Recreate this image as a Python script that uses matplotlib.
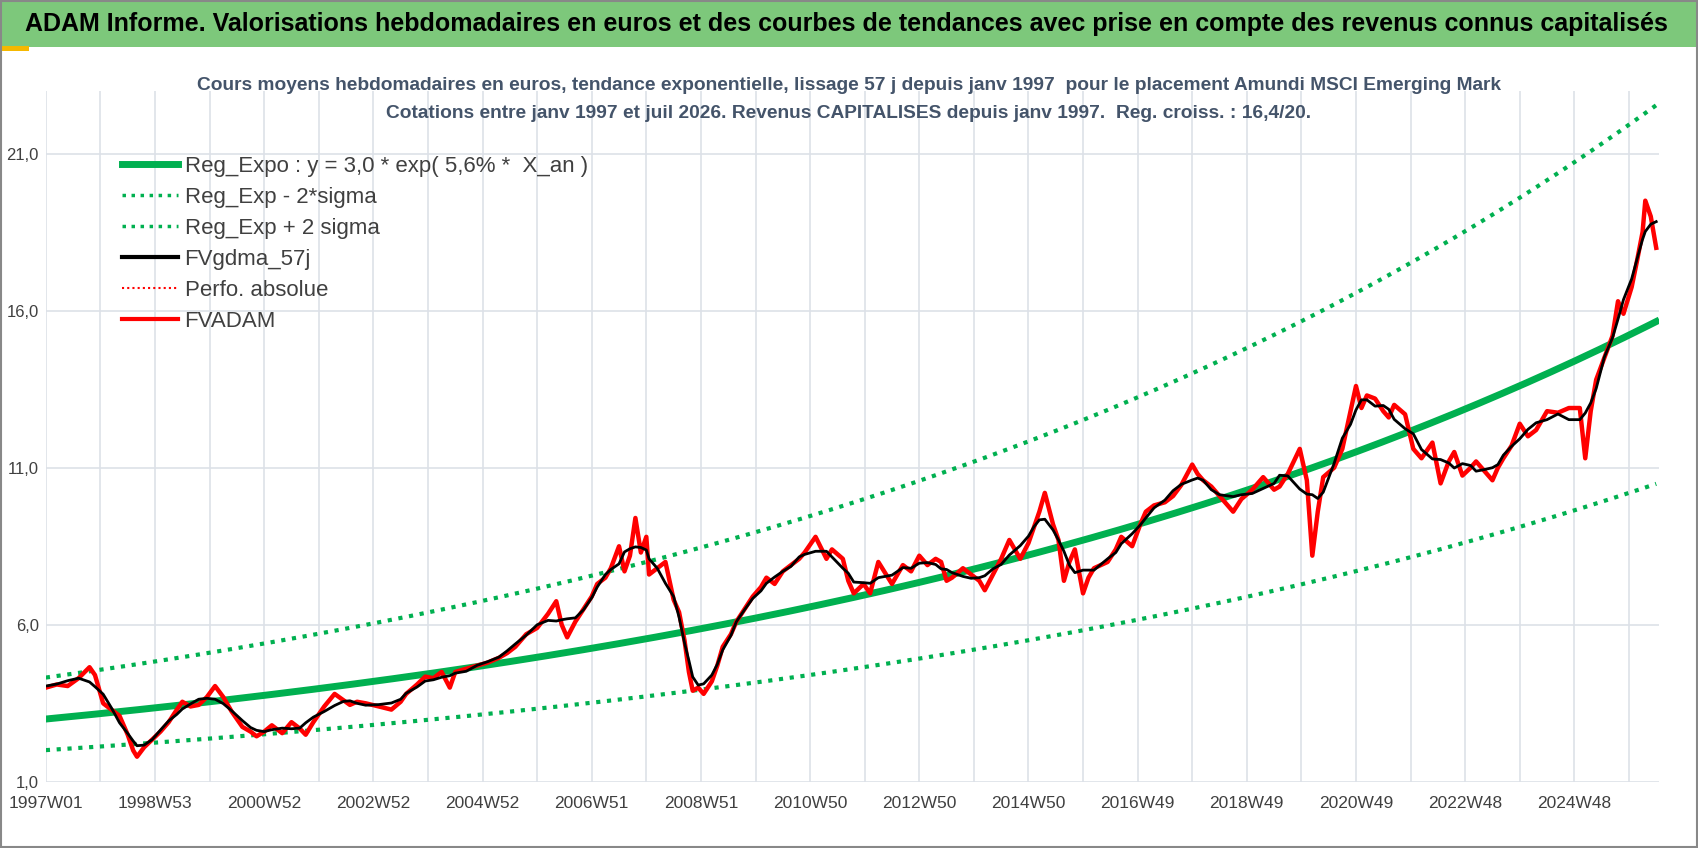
import numpy as np
import pandas as pd
import matplotlib
matplotlib.use("Agg")
import matplotlib.pyplot as plt
from matplotlib.patches import Rectangle
from matplotlib.lines import Line2D

plt.rcParams['font.family'] = ['Liberation Sans', 'DejaVu Sans']

# ---- data ----
red_years = [1997.0,1997.2,1997.4,1997.6,1997.8,1997.9,1998.05,1998.2,1998.35,1998.5,1998.6,1998.67,1998.8,1998.95,
 1999.1,1999.25,1999.4,1999.5,1999.65,1999.8,1999.95,2000.1,2000.25,2000.4,2000.6,2000.75,2000.86,2001.0,2001.14,
 2001.33,2001.5,2001.65,2001.76,2001.9,2002.1,2002.29,2002.45,2002.57,2002.7,2002.86,2003.1,2003.33,2003.5,2003.6,
 2003.8,2003.95,2004.1,2004.25,2004.4,2004.5,2004.7,2004.9,2005.1,2005.3,2005.45,2005.6,2005.8,2006.0,2006.2,2006.35,
 2006.45,2006.55,2006.7,2006.85,2007.0,2007.1,2007.25,2007.35,2007.5,2007.6,2007.7,2007.8,2007.9,2008.0,2008.05,
 2008.2,2008.35,2008.5,2008.6,2008.7,2008.78,2008.85,2008.95,2009.05,2009.2,2009.3,2009.4,2009.55,2009.65,2009.8,
 2009.95,2010.1,2010.2,2010.35,2010.5,2010.65,2010.8,2010.9,2011.1,2011.3,2011.4,2011.6,2011.7,2011.8,2011.98,2012.1,
 2012.25,2012.5,2012.7,2012.85,2013.0,2013.15,2013.3,2013.4,2013.5,2013.6,2013.8,2013.95,2014.1,2014.2,2014.35,2014.5,
 2014.65,2014.85,2015.0,2015.1,2015.2,2015.3,2015.45,2015.55,2015.65,2015.75,2015.85,2016.0,2016.1,2016.2,2016.45,
 2016.6,2016.7,2016.9,2017.05,2017.15,2017.3,2017.5,2017.65,2017.8,2018.0,2018.1,2018.2,2018.35,2018.5,2018.75,2018.9,
 2019.1,2019.3,2019.5,2019.6,2019.75,2019.97,2020.1,2020.2,2020.3,2020.4,2020.6,2020.75,2020.9,2021.0,2021.1,2021.2,
 2021.35,2021.5,2021.6,2021.7,2021.9,2022.05,2022.2,2022.4,2022.55,2022.7,2022.8,2022.95,2023.1,2023.2,2023.35,2023.5,
 2023.6,2023.7,2023.85,2024.0,2024.15,2024.3,2024.5,2024.7,2024.9,2025.1,2025.2,2025.3,2025.4,2025.55,2025.7,2025.8,
 2025.9,2026.05,2026.15,2026.25,2026.3,2026.4,2026.5]
red_values = [4.0,4.1,4.05,4.3,4.65,4.4,3.5,3.3,3.1,2.5,2.0,1.8,2.1,2.35,
 2.6,2.9,3.3,3.55,3.4,3.45,3.7,4.05,3.7,3.25,2.75,2.6,2.45,2.6,2.8,
 2.55,2.9,2.7,2.5,2.9,3.4,3.8,3.6,3.45,3.55,3.5,3.4,3.3,3.55,3.8,
 4.1,4.35,4.3,4.5,4.0,4.5,4.6,4.7,4.8,4.95,5.1,5.3,5.7,5.9,6.35,6.75,
 6.0,5.6,6.1,6.5,6.9,7.3,7.5,7.8,8.5,7.7,8.2,9.4,8.3,8.8,7.6,
 7.8,8.0,6.8,6.4,5.5,4.5,3.9,4.0,3.8,4.2,4.7,5.3,5.7,6.1,6.5,
 6.9,7.2,7.5,7.3,7.7,7.9,8.1,8.3,8.8,8.1,8.4,8.1,7.4,7.0,7.3,7.0,
 8.0,7.3,7.9,7.7,8.2,7.9,8.1,8.0,7.4,7.5,7.8,7.6,7.4,7.1,7.6,8.1,
 8.7,8.1,8.6,9.1,9.6,10.2,9.2,8.7,7.4,8.0,8.4,7.0,7.5,7.8,8.0,
 8.4,8.8,8.5,9.2,9.6,9.8,9.9,10.1,10.45,11.1,10.8,10.6,10.4,10.1,9.6,10.0,
 10.3,10.7,10.3,10.4,10.8,11.6,10.6,8.2,9.6,10.7,11.0,11.6,12.8,13.6,12.9,13.3,
 13.2,12.8,12.6,13.0,12.7,11.6,11.3,11.8,10.5,11.2,11.5,10.75,11.0,11.2,10.9,10.6,
 11.0,11.3,11.7,12.4,12.0,12.2,12.8,12.75,12.9,12.9,11.3,12.8,13.8,14.5,15.2,16.3,
 15.9,16.75,17.6,18.5,19.5,19.0,18.0]

reg_a = 3.0
reg_rate = 0.056
sigma_up = 1.44
sigma_dn = 0.67
start_year = 1997.0
end_year = 2026.5

x_tick_labels = ["1997W01","1998W53","2000W52","2002W52","2004W52","2006W51",
                 "2008W51","2010W50","2012W50","2014W50","2016W49","2018W49",
                 "2020W49","2022W48","2024W48"]
y_ticks = [1, 6, 11, 16, 21]

# ---- derived ----
red = pd.Series(red_values, index=red_years)
black = red.rolling(5, center=True, min_periods=1).mean()
t = np.linspace(start_year, end_year, 400)
reg = reg_a * np.exp(reg_rate * (t - start_year))

W, H = 1698, 848
fig = plt.figure(figsize=(W/100, H/100), dpi=100)
fig.patch.set_facecolor("white")

fig.add_artist(Rectangle((0, 0.945), 1, 0.055, transform=fig.transFigure,
                         facecolor="#7DC87B", edgecolor="none"))
fig.add_artist(Rectangle((0.001, 0.940), 0.016, 0.006, transform=fig.transFigure,
                         facecolor="#F5B800", edgecolor="none"))
fig.text(0.015, 0.972, "ADAM Informe. Valorisations hebdomadaires en euros et des courbes de tendances avec prise en compte des revenus connus capitalisés",
         fontsize=18, fontweight="bold", color="black", va="center", ha="left")
fig.add_artist(Rectangle((0.0005, 0.001), 0.999, 0.998, transform=fig.transFigure,
                         facecolor="none", edgecolor="#888888", lw=1.5))

fig.text(0.5, 0.899, "Cours moyens hebdomadaires en euros, tendance exponentielle, lissage 57 j depuis janv 1997  pour le placement Amundi MSCI Emerging Mark",
         fontsize=13.8, fontweight="bold", color="#44546A", ha="center", va="center")
fig.text(0.5, 0.866, "Cotations entre janv 1997 et juil 2026. Revenus CAPITALISES depuis janv 1997.  Reg. croiss. : 16,4/20.",
         fontsize=13.8, fontweight="bold", color="#44546A", ha="center", va="center")

ax = fig.add_axes([0.027, 0.078, 0.950, 0.815])
ax.set_xlim(start_year, end_year + 0.05)
ax.set_ylim(1, 23)

ax.plot(t, reg, color="#00B050", lw=5, zorder=3)
ax.plot(t, reg * sigma_dn, color="#00B050", lw=3, ls=(0, (1, 1.6)), zorder=3)
ax.plot(t, reg * sigma_up, color="#00B050", lw=3, ls=(0, (1, 1.6)), zorder=3)
ax.plot(red.index, red.values, color="red", lw=3.2, zorder=4)
ax.plot(black.index, black.values, color="black", lw=2, zorder=5)

for yv in y_ticks:
    ax.axhline(yv, color="#DDE1E8", lw=1.2, zorder=0)
for yr in np.arange(1997, 2027, 1):
    ax.axvline(yr, color="#DDE1E8", lw=1.2, zorder=0)
ax.set_yticks(y_ticks)
ax.set_yticklabels([f"{v},0" for v in y_ticks], fontsize=12, color="#404040")
ax.set_xticks(np.arange(1997, 1997 + 2*len(x_tick_labels), 2))
ax.set_xticklabels(x_tick_labels, fontsize=12.5, color="#404040")
ax.tick_params(axis="y", length=0, pad=5)
ax.tick_params(axis="x", length=0, pad=10)
for s in ax.spines.values():
    s.set_visible(False)

handles = [
    Line2D([], [], color="#00B050", lw=5),
    Line2D([], [], color="#00B050", lw=2.5, ls=(0, (1, 1.6))),
    Line2D([], [], color="#00B050", lw=2.5, ls=(0, (1, 1.6))),
    Line2D([], [], color="black", lw=3),
    Line2D([], [], color="red", lw=1.5, ls=(0, (1, 1.5))),
    Line2D([], [], color="red", lw=3),
]
labels = ["Reg_Expo : y = 3,0 * exp( 5,6% *  X_an )", "Reg_Exp - 2*sigma", "Reg_Exp + 2 sigma",
          "FVgdma_57j", "Perfo. absolue", "FVADAM"]
ax.legend(handles, labels, loc="upper left", bbox_to_anchor=(0.035, 0.935), frameon=False,
          fontsize=16, handlelength=2.5, handletextpad=0.3, labelspacing=0.45, labelcolor="#404040")

fig.savefig("out.png", dpi=100)
